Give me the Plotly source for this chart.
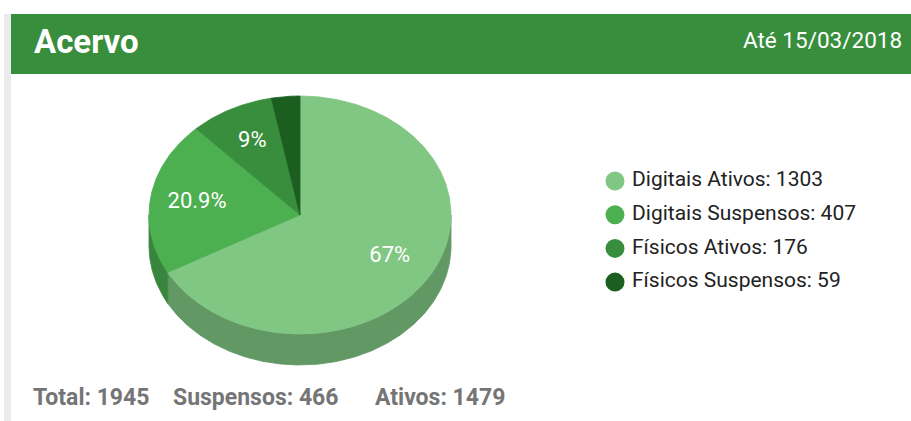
import numpy as np
import plotly.graph_objects as go

# ---- data ----
labels = ["Digitais Ativos", "Digitais Suspensos", "Físicos Ativos", "Físicos Suspensos"]
values = [1303, 407, 176, 59]
is_suspended = [False, True, False, True]
title_text = "Acervo"
date_text = "Até 15/03/2018"

# ---- style ----
top_colors = ["#81c784", "#4caf50", "#388e3c", "#1b5e20"]
side_colors = ["#619864", "#3a853d", "#2b6e2e", "#154a19"]
W, H = 911, 421
CX, CY, RX, RY, DEPTH = 300, 215, 151, 119, 31
LABEL_F = 0.69
FONT = "Roboto"

vals = np.array(values, dtype=float)
total = vals.sum()
frac = vals / total
ends = np.cumsum(frac) * 360.0
starts = ends - frac * 360.0


def arc(a, b, dy=0.0, n=None):
    if n is None:
        n = max(int(abs(b - a) * 1.5), 4)
    t = np.radians(np.linspace(a, b, n))
    return CX + RX * np.sin(t), CY - RY * np.cos(t) + dy


fig = go.Figure()

# side faces (front half only: 90..270 deg clockwise from top)
for i in range(len(values)):
    a = max(starts[i], 90.0)
    b = min(ends[i], 270.0)
    if a < b:
        xt, yt = arc(a, b)
        xb, yb = arc(b, a, DEPTH)
        xs = np.concatenate([xt, xb, xt[:1]])
        ys = np.concatenate([yt, yb, yt[:1]])
        fig.add_trace(go.Scatter(x=xs, y=ys, mode="lines", fill="toself",
                                 fillcolor=side_colors[i],
                                 line=dict(color=side_colors[i], width=0.8),
                                 hoverinfo="skip", showlegend=False))

# top faces
for i in range(len(values)):
    xa, ya = arc(starts[i], ends[i])
    xs = np.concatenate([[CX], xa, [CX]])
    ys = np.concatenate([[CY], ya, [CY]])
    fig.add_trace(go.Scatter(x=xs, y=ys, mode="lines", fill="toself",
                             fillcolor=top_colors[i],
                             line=dict(color=top_colors[i], width=0.8),
                             hoverinfo="skip", showlegend=False))

# slice labels
lx, ly, lt = [], [], []
for i in range(len(values)):
    if frac[i] < 0.05:
        continue
    mid = np.radians((starts[i] + ends[i]) / 2)
    lx.append(CX + RX * LABEL_F * np.sin(mid))
    ly.append(CY - RY * LABEL_F * np.cos(mid))
    lt.append(f"{round(frac[i] * 100, 1):g}%")
fig.add_trace(go.Scatter(x=lx, y=ly, mode="text", text=lt,
                         textfont=dict(family=FONT, size=22, color="white"),
                         hoverinfo="skip", showlegend=False))

# legend (custom, drawn on the same axes)
LEG_X, LEG_Y0, LEG_DY = 615, 181, 33.7
leg_y = [LEG_Y0 + i * LEG_DY for i in range(len(values))]
fig.add_trace(go.Scatter(x=[LEG_X] * len(values), y=leg_y, mode="markers",
                         marker=dict(size=19, color=top_colors, line=dict(width=0)),
                         hoverinfo="skip", showlegend=False))
fig.add_trace(go.Scatter(x=[LEG_X + 17] * len(values), y=leg_y, mode="text",
                         text=[f"{l}: {v}" for l, v in zip(labels, values)],
                         textposition="middle right",
                         textfont=dict(family=FONT, size=21, color="#222222"),
                         hoverinfo="skip", showlegend=False))

# header and frame
shapes = [
    dict(type="rect", xref="x", yref="y", x0=4, x1=11, y0=14, y1=H,
         fillcolor="#ebebeb", line=dict(width=0), layer="below"),
    dict(type="rect", xref="x", yref="y", x0=11, x1=W, y0=14, y1=74,
         fillcolor="#388e3c", line=dict(width=0), layer="below"),
]

susp = int(sum(v for v, s in zip(values, is_suspended) if s))
ativ = int(sum(v for v, s in zip(values, is_suspended) if not s))
annotations = [
    dict(x=32, y=41, xref="x", yref="y", text=title_text, showarrow=False,
         xanchor="left", yanchor="middle",
         font=dict(family=FONT, size=33, color="white", weight="bold")),
    dict(x=904, y=40, xref="x", yref="y", text=date_text, showarrow=False,
         xanchor="right", yanchor="middle",
         font=dict(family=FONT, size=22.5, color="white")),
]
bottom = [(31, f"Total: {int(total)}"), (171, f"Suspensos: {susp}"), (373, f"Ativos: {ativ}")]
for bx, bt in bottom:
    annotations.append(dict(x=bx, y=397, xref="x", yref="y", text=bt, showarrow=False,
                            xanchor="left", yanchor="middle",
                            font=dict(family=FONT, size=23, color="#757575", weight="bold")))

fig.update_layout(
    width=W, height=H,
    margin=dict(l=0, r=0, t=0, b=0),
    paper_bgcolor="white", plot_bgcolor="white",
    xaxis=dict(range=[0, W], visible=False, fixedrange=True),
    yaxis=dict(range=[H, 0], visible=False, fixedrange=True),
    shapes=shapes, annotations=annotations,
    showlegend=False,
)
fig.write_html("out.html")
